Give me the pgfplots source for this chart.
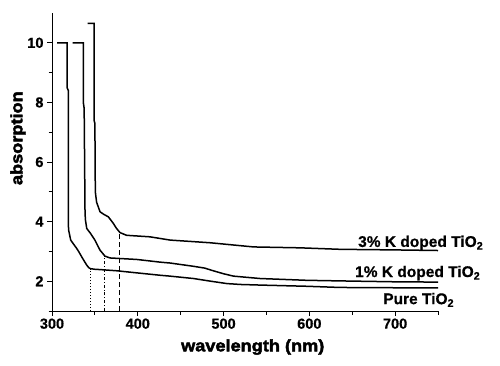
\documentclass[border=0pt]{standalone}
\usepackage{fontspec}
\setmainfont{Liberation Sans}
\newfontfamily\heavy[FakeBold=2.6,FakeStretch=1.1]{Liberation Sans Bold}
\newfontfamily\boldf[FakeBold=0.6]{Liberation Sans Bold}
\usepackage{pgfplots}
\pgfplotsset{compat=1.18}
\begin{document}
\begin{tikzpicture}
\useasboundingbox (0,0) rectangle (500pt,365pt);
\begin{axis}[
  at={(52pt,54pt)}, anchor=south west,
  scale only axis, width=386pt, height=298pt,
  xmin=300, xmax=750, ymin=1, ymax=11,
  axis lines*=left,
  axis line style={line width=1pt},
  xtick={300,400,...,700}, ytick={2,4,...,10},
  minor xtick={350,450,...,750}, minor ytick={1,3,...,9},
  tick align=outside,
  major tick length=5pt, minor tick length=3.5pt,
  every tick/.style={line width=1pt, black},
  /pgf/number format/assume math mode=true,
  ticklabel style={font=\boldf\fontsize{14.5}{16}\selectfont},
  xticklabel style={yshift=1pt},
  xlabel={wavelength (nm)}, ylabel={absorption},
  xlabel style={font=\heavy\fontsize{16.5}{18}\selectfont, at={(axis description cs:0.52,-0.121)}, anchor=center},
  ylabel style={font=\heavy\fontsize{16.5}{18}\selectfont, at={(axis description cs:-0.088,0.58)}, anchor=center},
  clip=false,
]
\addplot[black, line width=1.5pt] coordinates {
(306,10) (317.5,10) (317.5,8.5) (319,8.4) (319,3.9) (319.5,3.7) (321.8,3.38) (325,3.25) (328.8,3.10) (331,3.0) (334.6,2.82) (337.5,2.68) (340.5,2.54) (343,2.45) (345,2.42) (350,2.40) (356,2.39) (375.5,2.35) (398.8,2.28) (426,2.20) (437.7,2.17) (465,2.09) (485,2.0) (504,1.92) (520,1.89) (543,1.87) (597,1.83) (636,1.79) (700,1.78) (750,1.78)
};
\addplot[black, line width=1.5pt] coordinates {
(324,10) (336.5,10) (336.5,8.0) (337.5,7.8) (338.5,4.3) (339,4.05) (340.5,3.77) (345,3.6) (350,3.38) (356,3.04) (361.8,2.84) (367.7,2.78) (398.8,2.73) (426,2.64) (437.7,2.61) (465,2.50) (478,2.44) (488,2.35) (500,2.25) (511.6,2.17) (542.7,2.09) (597,2.03) (636,2.01) (700,1.98) (750,1.97)
};
\addplot[black, line width=1.5pt] coordinates {
(341.6,10.65) (349,10.65) (349,7.4) (350,7.3) (350.5,5.0) (352,4.65) (356,4.33) (360,4.25) (365.7,4.16) (371.5,3.94) (375,3.78) (379.3,3.63) (387,3.54) (414,3.49) (437.7,3.38) (484.4,3.29) (535,3.15) (589,3.12) (636,3.07) (700,3.05) (750,3.03)
};
\addplot[black, line width=1pt, dotted] coordinates {(345,1) (345,2.42)};
\addplot[black, line width=0.9pt, dash pattern=on 3pt off 2pt on 0.8pt off 2pt] coordinates {(361.5,1) (361.5,2.84)};
\addplot[black, line width=1.4pt, dash pattern=on 5pt off 3pt] coordinates {(378.5,1) (378.5,3.63)};
\node[anchor=base east, font=\boldf\fontsize{15.5}{17}\selectfont, inner sep=0pt] at (axis cs:803,3.15) {3\% K doped TiO\textsubscript{2}};
\node[anchor=base east, font=\boldf\fontsize{15.5}{17}\selectfont, inner sep=0pt] at (axis cs:799.5,2.14) {1\% K doped TiO\textsubscript{2}};
\node[anchor=base east, font=\boldf\fontsize{15.5}{17}\selectfont, inner sep=0pt] at (axis cs:769,1.23) {Pure TiO\textsubscript{2}};
\end{axis}
\end{tikzpicture}
\end{document}
